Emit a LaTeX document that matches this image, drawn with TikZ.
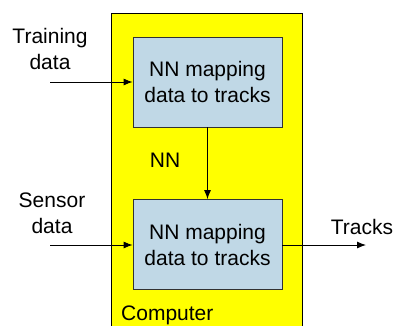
\documentclass[tikz,border=0pt]{standalone}
\usepackage{fontspec}
\setmainfont{Liberation Sans}
\usetikzlibrary{arrows.meta}
\definecolor{boxblue}{RGB}{192,216,230}
\definecolor{boxyellow}{RGB}{255,255,0}
\begin{document}
\begin{tikzpicture}[x=1pt,y=-1pt,
  lbl/.style={font=\fontsize{21}{26}\selectfont, align=center, inner sep=0pt},
  nnbox/.style={draw={rgb,255:red,50;green,50;blue,50}, fill=boxblue, line width=0.8pt, minimum width=149pt, minimum height=90pt, font=\fontsize{21}{26}\selectfont, align=center, inner sep=0pt},
  arr/.style={-{Latex[length=9pt,width=7pt]}, line width=0.9pt}]
\useasboundingbox (0,0) rectangle (395,325);
\fill[boxyellow] (111,13) rectangle (302,326);
\draw[line width=0.8pt] (111,326) -- (111,13) -- (302,13) -- (302,326);
\node[nnbox] (top) at (207.5,82) {NN mapping\\data to tracks};
\node[nnbox] (bot) at (207.5,244.5) {NN mapping\\data to tracks};
\node[lbl] (train) at (50,49) {Training\\data};
\node[lbl] (sensor) at (52,213) {Sensor\\data};
\node[lbl] (tracks) at (362,227) {Tracks};
\node[lbl] (nn) at (165,160) {NN};
\node[lbl, anchor=west] (comp) at (121,315) {Computer};
\coordinate (tin) at (50,82);
\coordinate (sin) at (50,245);
\coordinate (tout) at (366,245);
\draw[arr] (tin) -- (top.west |- tin);
\draw[arr] (sin) -- (bot.west |- sin);
\draw[arr] (bot.east |- tout) -- (tout);
\draw[arr] (top.south) -- (bot.north);
\end{tikzpicture}
\end{document}
